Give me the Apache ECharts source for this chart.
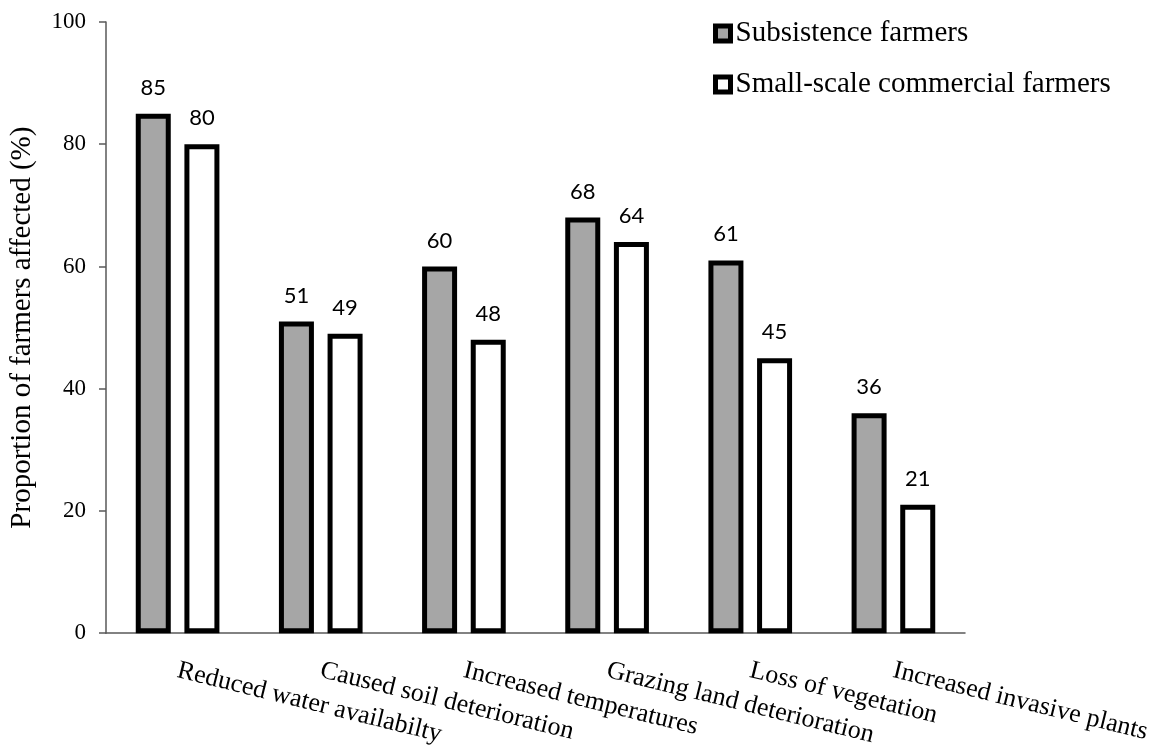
<!DOCTYPE html>
<html>
<head>
<meta charset="utf-8">
<script src="https://cdn.jsdelivr.net/npm/echarts@6/dist/echarts.min.js"></script>
<style>
  html, body { margin: 0; padding: 0; background: #ffffff; }
  #chart { width: 1153px; height: 749px; }
</style>
</head>
<body>
<div id="chart"></div>
<script>
// Climate impacts reported by farmers
const categories = [
  'Reduced water availabilty',
  'Caused soil deterioration',
  'Increased temperatures',
  'Grazing land deterioration',
  'Loss of vegetation',
  'Increased invasive plants'
];
const subsistence = [85, 51, 60, 68, 61, 36];
const smallScale = [80, 49, 48, 64, 45, 21];
const seriesNames = ['Subsistence farmers', 'Small-scale commercial farmers'];
const yTicks = { min: 0, max: 100, interval: 20 };

const serif = '"Liberation Serif", "Times New Roman", serif';
const sans = 'Lato, "Open Sans", sans-serif';

const chart = echarts.init(document.getElementById('chart'), null, { renderer: 'canvas' });

const labelStyle = {
  show: true,
  position: 'top',
  distance: 15,
  color: '#000',
  fontFamily: sans,
  fontSize: 22
};

chart.setOption({
  animation: false,
  backgroundColor: '#ffffff',
  grid: { left: 103, right: 188, top: 22, bottom: 115, containLabel: false },
  legend: {
    orient: 'vertical',
    left: 708,
    top: 14,
    itemWidth: 15,
    itemHeight: 15,
    itemGap: 22,
    icon: 'rect',
    textStyle: { fontFamily: serif, fontSize: 29, lineHeight: 29, color: '#000' },
    itemStyle: { borderWidth: 5, borderColor: '#000' },
    data: seriesNames
  },
  xAxis: {
    type: 'category',
    data: categories,
    axisLine: { show: true, lineStyle: { color: '#595959', width: 1.5 } },
    axisTick: { show: false },
    axisLabel: {
      interval: 0,
      rotate: -13.8,
      margin: 37,
      color: '#000',
      fontFamily: serif,
      fontSize: 26
    }
  },
  yAxis: {
    type: 'value',
    min: yTicks.min,
    max: yTicks.max,
    interval: yTicks.interval,
    name: 'Proportion of farmers affected (%)',
    nameLocation: 'middle',
    nameGap: 69,
    nameTextStyle: { fontFamily: serif, fontSize: 29, color: '#000' },
    axisLine: { show: true, lineStyle: { color: '#595959', width: 1.5 } },
    axisTick: { show: true, inside: false, length: 7, lineStyle: { color: '#595959', width: 1.5 } },
    axisLabel: { margin: 20, color: '#000', fontFamily: serif, fontSize: 23 },
    splitLine: { show: false }
  },
  series: [
    {
      name: seriesNames[0],
      type: 'bar',
      data: subsistence,
      barWidth: 35,
      barGap: '39%',
      itemStyle: { color: '#a6a6a6', borderColor: '#000', borderWidth: 5 },
      label: labelStyle
    },
    {
      name: seriesNames[1],
      type: 'bar',
      data: smallScale,
      barWidth: 35,
      barGap: '39%',
      itemStyle: { color: '#ffffff', borderColor: '#000', borderWidth: 5 },
      label: labelStyle
    }
  ]
});
</script>
</body>
</html>
